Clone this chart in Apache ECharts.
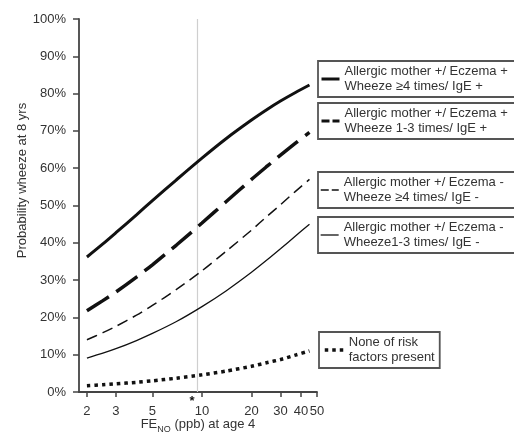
<!DOCTYPE html>
<html><head><meta charset="utf-8">
<script src="https://cdn.jsdelivr.net/npm/echarts@6/dist/echarts.min.js"></script>
<style>html,body{margin:0;padding:0;background:#fff}#c{width:514px;height:439px}</style>
</head><body><div id="c"></div>
<script>
// FENO (ppb) at age 4
const feno = [2, 2.5, 3, 4, 5, 7, 10, 14, 20, 25, 30, 37, 45];
// Probability of wheeze at 8 yrs (%)
const wheezeGe4IgEpos = [36.2, 39.7, 42.7, 47.5, 51.3, 56.9, 62.7, 67.9, 72.9, 75.8, 78.0, 80.3, 82.3];
const wheeze13IgEpos  = [21.8, 24.5, 26.8, 30.8, 34.1, 39.4, 45.3, 51.0, 57.0, 60.6, 63.5, 66.7, 69.6];
const wheezeGe4IgEneg = [14.0, 15.9, 17.6, 20.6, 23.2, 27.5, 32.5, 37.7, 43.4, 47.2, 50.2, 53.8, 57.0];
const wheeze13IgEneg  = [9.1, 10.4, 11.6, 13.8, 15.7, 18.9, 22.9, 27.1, 32.1, 35.5, 38.4, 41.8, 45.0];
const noRisk          = [1.7, 1.95, 2.2, 2.6, 3.0, 3.7, 4.6, 5.6, 6.9, 7.9, 8.7, 9.9, 11.0];
const xTicks = [2, 3, 5, 10, 20, 30, 40, 50];
const cutoff = 9.3;     // vertical reference line
const starAt = 8.7;     // asterisk under the axis
const seriesLabels = [
  'Allergic mother +/ Eczema +\nWheeze \u22654 times/ IgE +',
  'Allergic mother +/ Eczema +\nWheeze 1-3 times/ IgE +',
  'Allergic mother +/ Eczema -\nWheeze \u22654 times/ IgE -',
  'Allergic mother +/ Eczema -\nWheeze1-3 times/ IgE -',
  'None of risk\nfactors present'
];
const xName = 'FE';
const xNameSub = 'NO';
const xNameRest = ' (ppb) at age 4';
const yName = 'Probability wheeze at 8 yrs';

const FONT = 'Liberation Sans, Arial, sans-serif';
const TXT = '#333';
const AX = '#444';
const chart = echarts.init(document.getElementById('c'), null, {renderer: 'canvas'});

function pts(arr) { return feno.map((x, i) => [x, arr[i]]); }
const styles = [
  {width: 3, type: 'solid'},
  {width: 3.5, type: [26, 9]},
  {width: 1.5, type: [11, 6]},
  {width: 1.3, type: 'solid'},
  {width: 3.5, type: [3.5, 4]}
];
const legendIcons = [
  {width: 3, type: 'solid'},
  {width: 3, type: [8, 3]},
  {width: 1.5, type: [8, 3]},
  {width: 1.3, type: 'solid'},
  {width: 3.5, type: [3.5, 4]}
];
const allData = [wheezeGe4IgEpos, wheeze13IgEpos, wheezeGe4IgEneg, wheeze13IgEneg, noRisk];
const boxPos = [[318, 61], [318, 103], [318, 172], [318, 217], [319, 332]];

const series = allData.map((d, i) => ({
  name: seriesLabels[i],
  type: 'line',
  data: pts(d),
  smooth: 0.25,
  symbol: 'none',
  color: '#111',
  lineStyle: {color: '#111', width: styles[i].width, type: styles[i].type, cap: 'butt'},
  z: 3
}));
series[0].markLine = {
  silent: true, symbol: 'none', label: {show: false},
  lineStyle: {color: '#cfcfcf', width: 1.2, type: 'solid'},
  data: [{xAxis: cutoff}], z: 1
};

const clear = 'rgba(0,0,0,0)';
const legends = seriesLabels.map((name, i) => ({
  data: [{
    name: name,
    lineStyle: {color: '#111', width: legendIcons[i].width, type: legendIcons[i].type},
    itemStyle: {color: clear, borderColor: clear, borderWidth: 0, opacity: 0}
  }],
  left: boxPos[i][0], top: boxPos[i][1],
  orient: 'vertical',
  padding: i === 4 ? [3, 5, 3, 4] : [3, 14, 3, 2],
  itemWidth: i === 4 ? 19 : 18, itemHeight: 14,
  borderColor: '#555', borderWidth: 1.8, borderRadius: 0,
  selectedMode: false,
  textStyle: {fontFamily: FONT, fontSize: 13, lineHeight: 15, color: TXT}
}));

chart.setOption({
  animation: false,
  backgroundColor: '#fff',
  grid: {left: 79, right: 197, top: 19, bottom: 47, containLabel: false, outerBoundsMode: 'none'},
  legend: legends,
  xAxis: {
    type: 'log', logBase: 10, min: 1.79, max: 50,
    name: '{a|' + xName + '}{s|' + xNameSub + '}{a|' + xNameRest + '}',
    nameLocation: 'middle', nameGap: 26, nameMoveOverlap: false,
    nameTextStyle: {rich: {
      a: {fontFamily: FONT, fontSize: 13, color: TXT},
      s: {fontFamily: FONT, fontSize: 9, color: TXT, verticalAlign: 'bottom', padding: [0, 0, -3, 0]}
    }},
    axisLine: {lineStyle: {color: AX, width: 1.8}},
    axisTick: {customValues: xTicks, length: 5, lineStyle: {color: AX, width: 1.5}},
    axisLabel: {customValues: xTicks, margin: 13, fontFamily: FONT, fontSize: 13, color: TXT,
      formatter: v => String(Math.round(v))},
    splitLine: {show: false}, minorTick: {show: false}
  },
  yAxis: {
    type: 'value', min: 0, max: 100, interval: 10,
    name: yName, nameLocation: 'middle', nameGap: 50, nameMoveOverlap: false,
    nameTextStyle: {fontFamily: FONT, fontSize: 13, color: TXT, padding: [0, 0, 0, 50]},
    axisLine: {show: true, lineStyle: {color: AX, width: 1.8}},
    axisTick: {show: true, length: 6, lineStyle: {color: AX, width: 1.5}},
    axisLabel: {margin: 13, fontFamily: FONT, fontSize: 13, color: TXT, formatter: '{value}%'},
    splitLine: {show: false}
  },
  series: series
});

const p = chart.convertToPixel({gridIndex: 0}, [starAt, 0]);
chart.setOption({graphic: [{
  type: 'text', x: p[0], y: p[1] + 9,
  style: {text: '*', fontFamily: FONT, fontWeight: 'bold', fontSize: 13, fill: '#111', align: 'center', verticalAlign: 'middle'}
}]});
</script></body></html>
